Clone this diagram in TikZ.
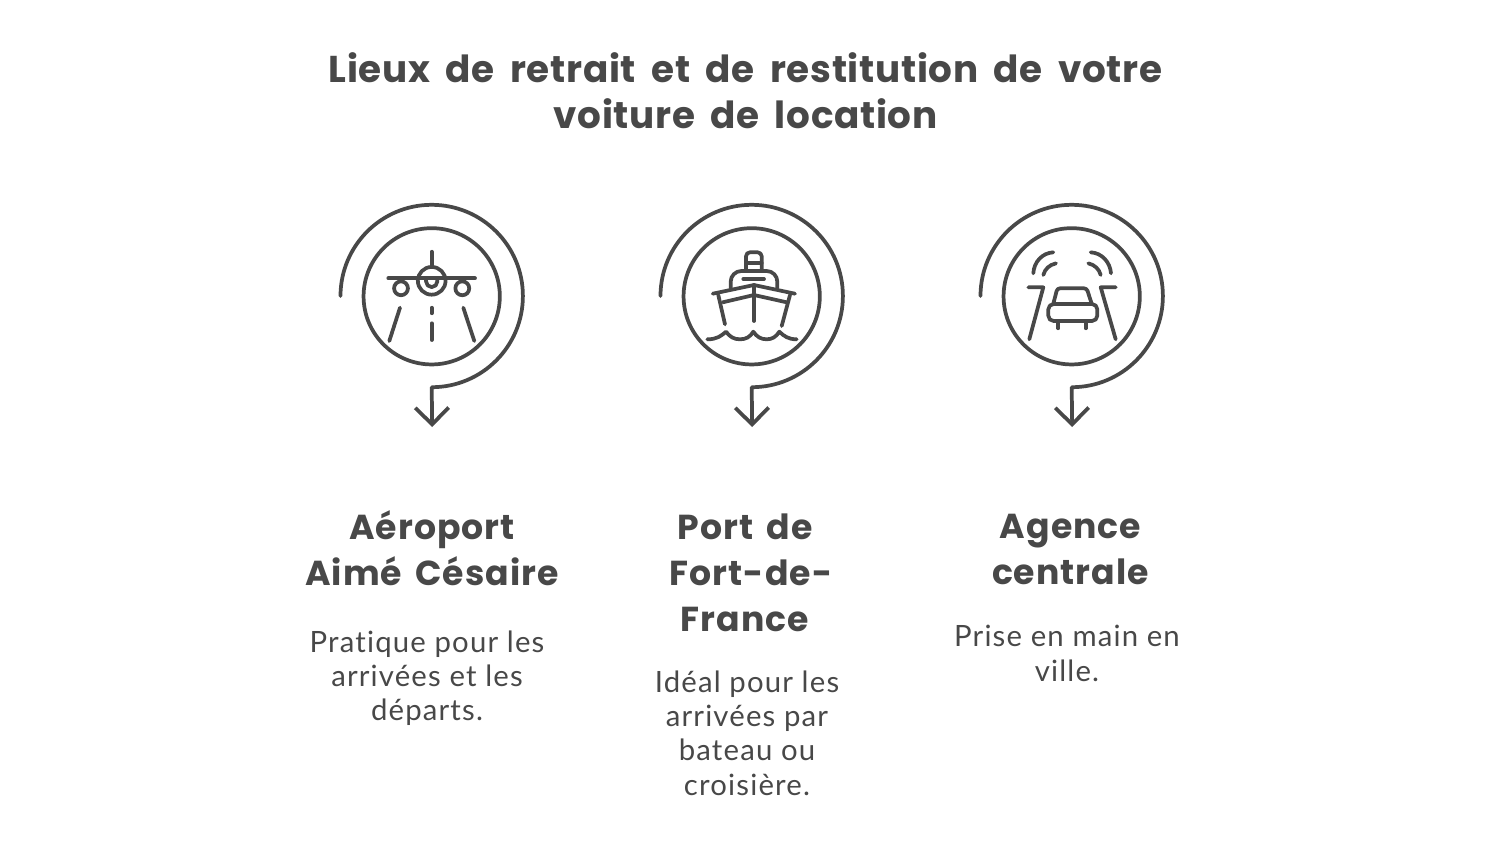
\documentclass[tikz,border=0pt]{standalone}
\usepackage{fontspec}
\setmainfont[LetterSpace=1.8, WordSpace=1.8]{Poppins}
\newfontfamily\headfont[LetterSpace=3, WordSpace=1.6]{Poppins}
\newfontfamily\bodyfont[LetterSpace=4, Ligatures=NoCommon]{Lato}
\usetikzlibrary{arrows.meta}
\definecolor{inkgray}{HTML}{484848}

\begin{document}
\begin{tikzpicture}[
        x = 0.75pt,
        y = -0.75pt,
        line cap = round,
        line join = round,
        iconline/.style = {draw=inkgray, line width=2.8pt},
        ring/.style = {iconline, circle, minimum size=102.2pt, inner sep=0pt},
        spiral/.style = {iconline, -{Straight Barb[length=12.5pt, width=25pt, line width=2.8pt]}},
        titletext/.style = {text=inkgray, align=center, font=\fontsize{28}{34.5}\selectfont\bfseries},
        headtext/.style = {text=inkgray, align=center, font=\headfont\fontsize{26}{34.5}\selectfont\bfseries},
        bodytext/.style = {text=inkgray, align=center, font=\bodyfont\fontsize{22}{25.7}\selectfont}]
        \useasboundingbox (0,0) rectangle (1500,844);

        % TEXTS
        % title
        \node[titletext] (title) at (745.5,91) {Lieux de retrait et de restitution de votre\\voiture de location};
        % airport
        \node[headtext] (headA) at (432,548.5) {Aéroport\\Aimé Césaire};
        \node[bodytext] (bodyA) at (427,678) {Pratique pour les\\arrivées et les\\départs.};
        % port
        \node[headtext] (headB) at (745,572.5) {Port de\\\hspace*{9pt}Fort-de-\\France};
        \node[bodytext] (bodyB) at (747,733) {Idéal pour les\\arrivées par\\bateau ou\\croisière.};
        % agency
        \node[headtext] (headC) at (1070.5,549.5) {Agence\\centrale};
        \node[bodytext] (bodyC) at (1067,653.5) {Prise en main en\\ville.};

        % RINGS
        \node[ring] (ringA) at (431.7,296.3) {};
        \node[ring] (ringB) at (751.7,296.3) {};
        \node[ring] (ringC) at (1071.7,296.3) {};

        % ARROWS
        \coordinate (startA) at (340.5,296);
        \coordinate (startB) at (660.5,296);
        \coordinate (startC) at (980.5,296);
        \coordinate (tipA) at (432.2,427);
        \coordinate (tipB) at (752.2,427);
        \coordinate (tipC) at (1072.2,427);
        \draw[spiral] (startA) arc[start angle=180, end angle=-90, radius=68.4pt] -- (tipA);
        \draw[spiral] (startB) arc[start angle=180, end angle=-90, radius=68.4pt] -- (tipB);
        \draw[spiral] (startC) arc[start angle=180, end angle=-90, radius=68.4pt] -- (tipC);

        % ICONS
        % plane on runway
        \draw[iconline] (388.3,278.3) -- (475,278.3);
        \draw[iconline] (431.7,251.7) -- (431.7,265);
        \draw[iconline] (431.7,280.8) circle[radius=10.4pt];
        \draw[iconline] (426.1,278.3) -- (426.1,281.5) arc[start angle=180, end angle=360, radius=4.2pt] -- (437.3,278.3);
        \draw[iconline] (401,288.3) circle[radius=5.2pt];
        \draw[iconline] (462.3,288.3) circle[radius=5.2pt];
        \draw[iconline] (400,307.7) -- (389.3,341);
        \draw[iconline] (463.3,307.7) -- (474.3,341);
        \draw[iconline] (431.7,307.7) -- (431.7,313.3);
        \draw[iconline] (431.7,323.3) -- (431.7,340);

        % ship
        \begin{scope}[shift={(320,0)}]
            \draw[iconline, rounded corners=3pt] (426,269) -- (426,252.3) -- (441.7,252.3) -- (441.7,269);
            \draw[iconline] (426,263.3) -- (441.7,263.3);
            \draw[iconline, rounded corners=8pt] (410.7,288.3) -- (410.7,271) -- (457.3,271) -- (457.3,288.3);
            \draw[iconline] (423.3,279) -- (444,279);
            \draw[iconline] (392.7,293.7) -- (434,285) -- (475,293.7);
            \draw[iconline] (402.7,302.3) -- (434,295) -- (466.7,302.3);
            \draw[iconline] (434,285) -- (434,321);
            \draw[iconline] (398.3,295) -- (405,324.3);
            \draw[iconline] (470,295) -- (461.7,326);
            \draw[iconline] (387.3,339.3) .. controls (397,339.3) and (401,336) .. (406,331.7)
                .. controls (410,337) and (414,339.3) .. (420,339.3)
                .. controls (426,339.3) and (430,337) .. (433.3,331.7)
                .. controls (437,337) and (441,339.3) .. (446.7,339.3)
                .. controls (452,339.3) and (456,337) .. (459.3,331.7)
                .. controls (464,336) and (468,339.3) .. (476.7,339.3);
        \end{scope}

        % car on road
        \begin{scope}[shift={(640,0)}]
            \draw[iconline] (393.3,273.3) .. controls (394,262) and (402,253) .. (413.3,252.3);
            \draw[iconline] (403.3,275) .. controls (405,269) and (409,265) .. (416,263.3);
            \draw[iconline] (471,273.3) .. controls (470,262) and (462,253) .. (450.7,252.3);
            \draw[iconline] (460.7,275) .. controls (459,269) and (455,265) .. (448.3,263.3);
            \draw[iconline] (388.3,287.3) -- (403.3,287.3) -- (389.3,339.3);
            \draw[iconline] (475.7,287.3) -- (460.7,287.3) -- (475.7,339.3);
            \draw[iconline, rounded corners=2pt] (413.3,303.8) -- (417.3,288.3) -- (446.7,288.3) -- (451.7,303.8);
            \draw[iconline, rounded corners=4pt] (408.3,304) rectangle (457.3,321);
            \draw[iconline] (418.3,321) -- (418.3,328.3);
            \draw[iconline] (445.7,321) -- (445.7,328.3);
        \end{scope}
    \end{tikzpicture}
\end{document}
